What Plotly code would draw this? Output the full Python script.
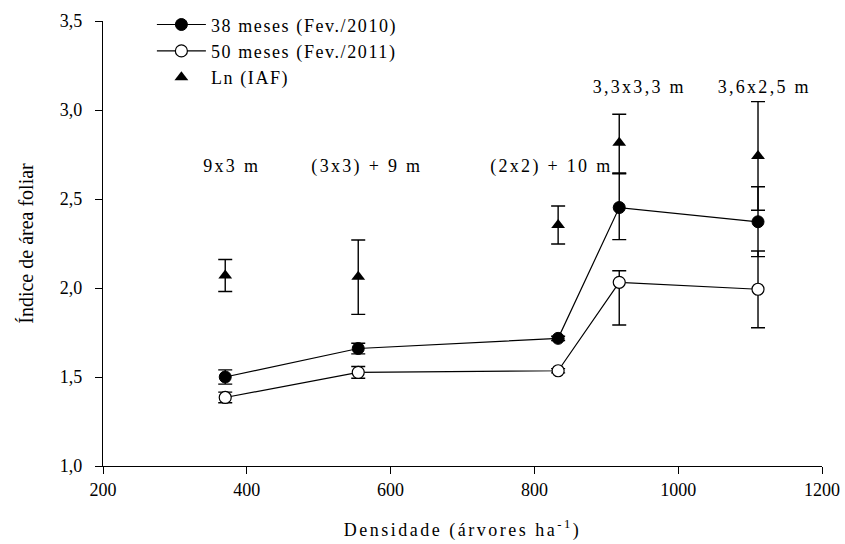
import plotly.graph_objects as go

# Planting density (trees per hectare) of each spacing arrangement
densidade = [370, 555, 833, 918, 1111]
espacamento = ["9x3 m", "(3x3) + 9 m", "(2x2) + 10 m", "3,3x3,3 m", "3,6x2,5 m"]
rotulo_y = [2.685, 2.685, 2.68, 3.13, 3.13]
rotulo_x = [380, 567, 824, 946, 1120]

# Leaf area index at 38 months (Feb/2010)
iaf_38 = [1.50, 1.66, 1.717, 2.452, 2.372]
iaf_38_mais = [0.04, 0.03, 0.012, 0.19, 0.197]
iaf_38_menos = [0.04, 0.03, 0.012, 0.18, 0.196]

# Leaf area index at 50 months (Feb/2011)
iaf_50 = [1.385, 1.526, 1.535, 2.032, 1.993]
iaf_50_mais = [0.03, 0.033, 0.012, 0.065, 0.215]
iaf_50_menos = [0.03, 0.033, 0.012, 0.24, 0.216]

# Ln of leaf area index
ln_iaf = [2.07, 2.063, 2.354, 2.816, 2.742]
ln_iaf_mais = [0.09, 0.207, 0.107, 0.16, 0.305]
ln_iaf_menos = [0.09, 0.211, 0.107, 0.17, 0.305]

FONTE = "Liberation Serif"

fig = go.Figure()

fig.add_trace(go.Scatter(
    x=densidade, y=ln_iaf, mode="markers", name="Ln (IAF)",
    marker=dict(symbol="triangle-up", size=12, color="black"),
    error_y=dict(type="data", symmetric=False, array=ln_iaf_mais,
                 arrayminus=ln_iaf_menos, color="black", thickness=1.4, width=7),
))
fig.add_trace(go.Scatter(
    x=densidade, y=iaf_50, mode="lines+markers", name="50 meses (Fev./2011)",
    line=dict(color="black", width=1.2),
    marker=dict(symbol="circle", size=12, color="white",
                line=dict(color="black", width=1.2)),
    error_y=dict(type="data", symmetric=False, array=iaf_50_mais,
                 arrayminus=iaf_50_menos, color="black", thickness=1.4, width=7),
))
fig.add_trace(go.Scatter(
    x=densidade, y=iaf_38, mode="lines+markers", name="38 meses (Fev./2010)",
    line=dict(color="black", width=1.2),
    marker=dict(symbol="circle", size=12, color="black",
                line=dict(color="black", width=1)),
    error_y=dict(type="data", symmetric=False, array=iaf_38_mais,
                 arrayminus=iaf_38_menos, color="black", thickness=1.4, width=7),
))

for tx, ty, texto in zip(rotulo_x, rotulo_y, espacamento):
    fig.add_annotation(x=tx, y=ty, xref="x", yref="y", text=texto,
                       showarrow=False, font=dict(family=FONTE, size=18, color="black"))

fig.update_layout(
    width=845, height=544,
    margin=dict(l=103, r=23, t=21, b=78, autoexpand=False),
    paper_bgcolor="white", plot_bgcolor="white",
    separators=",.",
    font=dict(family=FONTE, size=18, color="black"),
    legend=dict(x=0.068, y=1.033, xanchor="left", yanchor="top",
                traceorder="reversed", bgcolor="rgba(0,0,0,0)",
                font=dict(family=FONTE, size=18), itemwidth=49, tracegroupgap=0),
    showlegend=True,
)
fig.update_xaxes(
    range=[200, 1200], tickvals=[200, 400, 600, 800, 1000, 1200], tickformat="d",
    showgrid=False, zeroline=False, showline=True, linecolor="black", linewidth=1.2,
    ticks="outside", ticklen=7, tickwidth=1.2, tickcolor="black",
    tickfont=dict(family=FONTE, size=18),
    title=dict(text="Densidade (árvores ha<sup>-1</sup>)", standoff=24,
               font=dict(family=FONTE, size=18)),
)
fig.update_yaxes(
    range=[1.0, 3.5], tickvals=[1.0, 1.5, 2.0, 2.5, 3.0, 3.5], tickformat=".1f",
    showgrid=False, zeroline=False, showline=True, linecolor="black", linewidth=1.2,
    ticks="outside", ticklen=7, tickwidth=1.2, tickcolor="black",
    ticklabelstandoff=9, tickfont=dict(family=FONTE, size=18),
    title=dict(text="Índice de área foliar", standoff=20,
               font=dict(family=FONTE, size=20)),
)

# Wider letter spacing for the legend, spacing labels and x-axis title;
# the legend box is left unclipped so the spaced text is not cut off
estilo = ".legendtext{letter-spacing:1.6px}"
estilo += ".legend .scrollbox{clip-path:none !important}"
estilo += ".annotation-text{letter-spacing:2.3px}"
estilo += ".xtitle{letter-spacing:2.5px}"
pos_script = (
    "var s=document.createElement('style');"
    "s.textContent='" + estilo + "';"
    "document.head.appendChild(s);"
)

fig.write_html("out.html", post_script=pos_script)
